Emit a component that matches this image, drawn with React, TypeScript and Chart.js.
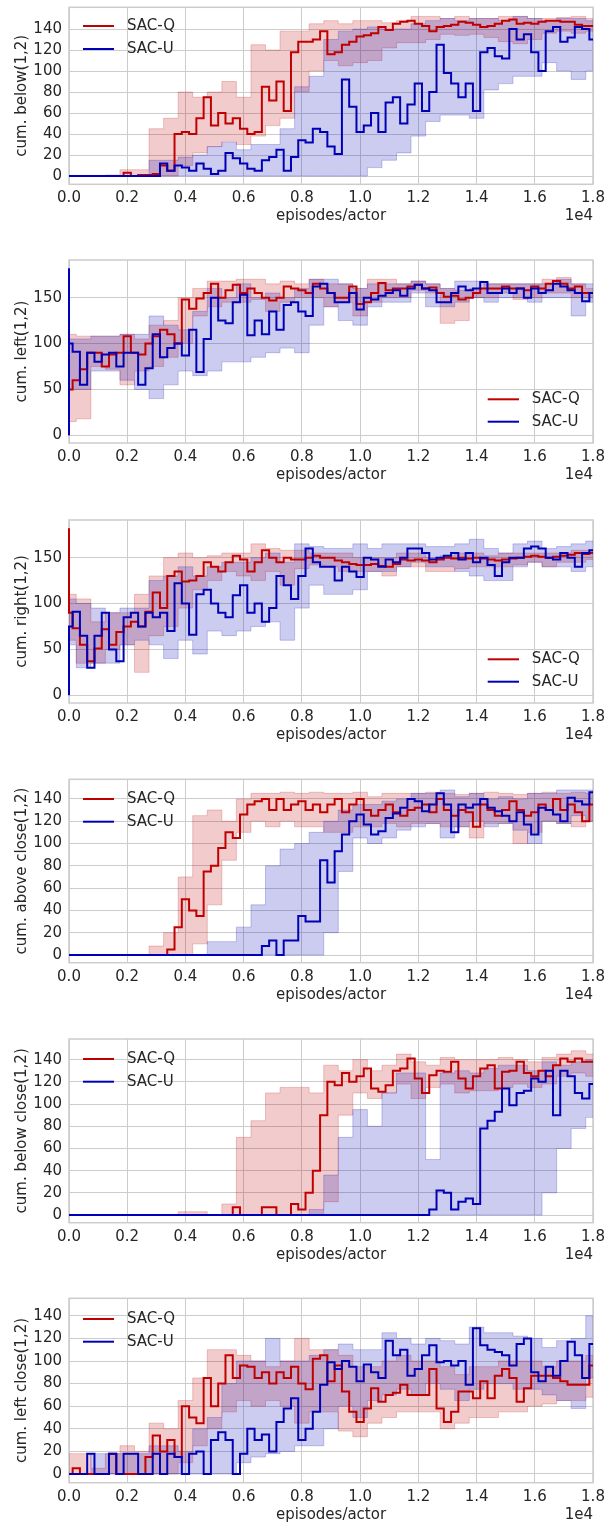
import React, { useEffect, useRef } from "react";
import { Chart, registerables } from "chart.js";

Chart.register(...registerables);

const FONT = '"DejaVu Sans", "Noto Sans", sans-serif';
const TEXT = "#262626";
const GRID = "#cccccc";
const RED = "rgb(192,0,0)";
const BLUE = "rgb(0,0,180)";
const RED_FILL = "rgba(192,0,0,0.2)";
const BLUE_FILL = "rgba(0,0,180,0.2)";
const RED_EDGE = "rgba(192,0,0,0.22)";
const BLUE_EDGE = "rgba(0,0,180,0.22)";

// episodes/actor sample positions
const LINE_X = Array.from({ length: 73 }, (_, i) => i * 250);
const BAND_X = Array.from({ length: 37 }, (_, i) => i * 500);
const X_TICKS = [0, 2000, 4000, 6000, 8000, 10000, 12000, 14000, 16000, 18000];
const Y_TICKS_20 = [0, 20, 40, 60, 80, 100, 120, 140];
const Y_TICKS_50 = [0, 50, 100, 150];
const SERIES_NAMES = ["SAC-Q", "SAC-U"];
const X_LABEL = "episodes/actor";
const X_OFFSET_LABEL = "1e4";

// ---- cum. below(1,2)
const BELOW_Q = [0,0,0,0,0,0,0,0,3,0, 1,1,2,10,5,40,42,40,55,75, 48,60,50,55,45,40,42,85,72,90, 62,118,128,128,130,138,116,118,125,128, 133,134,136,142,139,145,147,148,145,143, 138,142,143,144,147,146,144,142,143,145, 148,149,145,146,145,147,148,148,147,147, 144,143,143];
const BELOW_U = [0,0,0,0,0,0,0,0,0,0, 0,0,0,12,5,10,8,5,12,7, 2,5,22,17,12,7,5,15,18,25, 5,18,34,32,45,42,28,21,92,66, 42,48,60,42,70,75,50,68,88,62, 80,125,98,88,75,88,62,118,122,114, 112,140,130,135,118,100,138,142,128,132, 142,140,130];
const BELOW_Q_LO = [0,0,0,0,0,0,0,0,10,22, 28,33,30,38,48,55,80,100,110,105, 108,110,122,127,127,130,135,134,135,132, 128,126,130,136,138,136,138];
const BELOW_Q_HI = [0,0,0,1,6,6,45,55,80,75, 80,90,75,125,120,138,138,145,148,145, 148,148,146,148,152,152,150,152,150,150, 152,152,150,150,151,152,150];
const BELOW_U_LO = [0,0,0,0,0,0,0,0,0,0, 0,0,0,0,0,0,0,0,0,0, 0,8,15,22,38,52,58,58,55,82, 88,95,95,108,100,92,100];
const BELOW_U_HI = [0,0,0,0,0,0,15,15,18,20, 28,32,25,30,30,45,85,95,130,138, 140,142,140,140,145,148,150,148,150,150, 148,152,150,148,150,150,148];

// ---- cum. left(1,2)
const LEFT_Q_START = [0];
const LEFT_Q = [50,60,72,90,90,75,88,90,108,90, 88,100,108,115,110,100,148,138,149,155, 165,150,158,164,155,160,155,150,147,150, 162,160,158,155,165,160,155,150,150,162, 143,145,155,166,158,160,160,162,164,160, 161,155,151,152,148,150,155,160,160,160, 162,160,160,158,162,160,165,168,165,160, 162,155,155];
const LEFT_U_START = [0, 182];
const LEFT_U = [100,91,55,90,80,88,90,75,90,90, 55,73,110,85,95,100,87,115,69,105, 150,125,122,145,153,109,125,110,135,115, 142,145,135,130,162,165,155,145,145,155, 137,150,148,152,155,158,152,160,164,160, 158,145,145,155,162,158,160,167,155,155, 160,155,160,150,160,155,158,165,162,158, 155,146,155];
const LEFT_Q_LO = [15,18,75,72,55,70,75,85,100,130, 140,145,145,148,135,145,150,150,140,145, 130,145,150,150,158,155,122,125,150,150, 155,148,150,155,155,150,150];
const LEFT_Q_HI = [110,108,108,108,110,105,120,125,150,160, 168,168,170,170,165,168,165,170,165,165, 160,170,170,165,168,165,160,158,160,165, 165,165,165,170,172,165,160];
const LEFT_U_LO = [50,50,70,70,60,50,40,55,70,65, 70,80,80,85,90,95,90,120,140,125, 120,140,145,145,155,140,140,145,150,145, 150,150,145,150,150,130,145];
const LEFT_U_HI = [105,105,108,108,110,110,130,120,115,135, 160,150,165,150,155,150,160,170,170,165, 160,165,165,165,168,165,160,168,168,165, 165,165,165,165,170,165,165];

// ---- cum. right(1,2)
const RIGHT_Q_START = [182];
const RIGHT_Q = [90,73,55,37,51,72,55,69,75,80, 75,91,112,95,130,135,124,125,130,145, 140,135,145,152,148,135,145,158,150,145, 150,148,148,150,152,150,150,147,145,143, 142,142,143,141,140,143,148,147,148,147, 145,148,150,149,150,149,150,149,148,147, 148,149,150,151,152,151,150,151,152,153, 155,154,155];
const RIGHT_U_START = [0, 60];
const RIGHT_U = [75,91,65,30,65,90,50,37,85,90, 75,90,85,90,70,122,100,66,110,115, 100,90,85,109,120,90,100,80,95,130, 120,105,130,160,145,140,140,125,140,135, 129,150,148,140,148,145,150,160,160,155, 148,150,152,155,148,155,145,150,142,130, 145,150,150,160,162,160,150,148,155,150, 140,155,158];
const RIGHT_Q_LO = [60,35,35,50,55,25,65,75,95,115, 125,135,130,125,135,120,138,142,140,135, 135,135,130,140,140,135,135,138,140,140, 140,142,145,140,145,145,148];
const RIGHT_Q_HI = [110,105,80,90,90,110,130,150,155,150, 152,155,155,165,160,158,158,155,155,155, 150,150,150,155,155,150,152,155,155,152, 155,155,155,155,155,158,158];
const RIGHT_U_LO = [55,30,35,35,55,60,55,40,60,45, 70,65,70,75,80,60,95,120,110,110, 115,135,135,140,145,140,140,135,130,125, 125,140,145,140,140,135,140];
const RIGHT_U_HI = [105,100,95,90,95,95,125,130,140,130, 140,145,145,150,155,145,165,162,160,160, 165,160,165,165,165,162,162,165,170,160, 155,165,168,160,162,165,168];

// ---- cum. above close(1,2)
const ABOVE_Q = [0,0,0,0,0,0,0,0,0,0, 0,0,0,0,5,25,50,40,35,75, 80,96,110,105,126,135,138,140,130,140, 130,135,138,130,135,128,135,140,128,135, 140,130,125,130,135,128,125,130,132,135, 128,140,130,125,130,128,115,135,130,125, 130,138,130,125,128,135,130,140,130,135, 128,120,135];
const ABOVE_U = [0,0,0,0,0,0,0,0,0,0, 0,0,0,0,0,0,0,0,0,0, 0,0,0,0,0,0,0,8,13,0, 13,13,35,30,30,85,65,93,108,120, 126,117,108,111,123,127,132,140,138,129, 135,145,135,110,135,132,135,140,132,129, 125,120,128,117,108,132,130,126,120,141, 138,135,146];
const ABOVE_Q_LO = [0,0,0,0,0,0,0,0,0,10, 45,85,110,120,115,120,115,115,110,110, 115,115,118,115,118,118,115,115,105,118, 118,100,110,120,118,115,120];
const ABOVE_Q_HI = [0,0,0,0,0,0,8,20,70,125, 130,120,140,145,145,146,145,146,145,145, 146,142,145,145,145,146,145,144,145,146, 145,144,145,146,145,146,145];
const ABOVE_U_LO = [0,0,0,0,0,0,0,0,0,0, 0,0,0,0,0,0,0,0,20,75, 105,100,105,112,115,118,105,115,120,115, 118,112,100,120,118,125,120];
const ABOVE_U_HI = [0,0,0,0,0,0,0,0,0,0, 12,12,25,45,80,95,100,110,120,130, 135,135,138,140,145,145,148,142,145,140, 142,140,145,145,148,148,148];

// ---- cum. below close(1,2)
const BCLOSE_Q = [0,0,0,0,0,0,0,0,0,0, 0,0,0,0,0,0,0,0,0,0, 0,0,0,7,0,0,0,7,7,0, 0,10,5,20,40,90,120,117,128,120, 125,132,114,111,117,130,132,141,123,110, 126,130,129,138,123,114,125,132,135,114, 129,130,138,128,125,130,125,135,141,138, 141,138,138];
const BCLOSE_U = [0,0,0,0,0,0,0,0,0,0, 0,0,0,0,0,0,0,0,0,0, 0,0,0,0,0,0,0,0,0,0, 0,0,0,0,0,0,0,0,0,0, 0,0,0,0,0,0,0,0,0,0, 5,22,20,5,12,15,10,78,85,93, 114,99,110,112,123,120,130,90,130,125, 110,105,118];
const BCLOSE_Q_LO = [0,0,0,0,0,0,0,0,0,0, 0,0,0,0,0,0,0,0,12,90, 110,105,110,118,105,115,118,110,112,112, 115,118,115,118,125,128,125];
const BCLOSE_Q_HI = [0,0,0,0,0,0,0,0,3,3, 0,10,70,85,110,115,115,110,135,130, 140,130,135,145,138,135,142,140,140,140, 142,140,138,142,145,148,145];
const BCLOSE_U_LO = [0,0,0,0,0,0,0,0,0,0, 0,0,0,0,0,0,0,0,0,0, 0,0,0,0,0,0,0,0,0,0, 0,0,0,20,60,78,88];
const BCLOSE_U_HI = [0,0,0,0,0,0,0,0,0,0, 0,0,0,0,0,0,0,5,36,70, 95,80,110,128,128,50,128,130,128,132, 135,135,130,138,135,138,140];

// ---- cum. left close(1,2)
const LCLOSE_Q = [0,5,0,0,0,0,18,0,0,0, 0,15,34,20,30,15,60,50,45,85, 60,80,105,85,96,95,85,90,80,90, 85,95,80,75,102,105,82,96,73,55, 46,58,76,64,70,72,79,70,70,70, 93,58,46,55,73,73,67,82,67,87, 93,85,64,76,87,87,87,85,82,79, 79,79,96];
const LCLOSE_U = [0,0,0,18,0,0,18,0,18,18, 0,0,18,0,18,15,0,18,20,0, 30,37,30,0,18,40,30,35,20,46, 58,67,30,40,55,79,99,93,100,95, 82,97,90,85,118,105,110,87,93,105, 114,99,100,96,100,79,129,114,110,108, 105,96,115,120,90,82,95,87,100,117, 105,85,115];
const LCLOSE_Q_LO = [0,0,0,0,0,0,0,0,10,25, 40,55,65,60,65,60,45,55,55,38, 33,45,50,55,55,55,40,45,50,50, 55,55,60,62,65,65,68];
const LCLOSE_Q_HI = [18,18,5,18,25,20,45,40,65,85, 110,110,105,100,95,100,120,110,110,105, 95,95,100,105,100,100,95,88,95,95, 100,100,100,95,100,100,105];
const LCLOSE_U_LO = [0,0,0,0,0,0,0,0,0,0, 0,0,10,15,18,20,25,25,40,60, 50,65,70,75,70,80,75,65,75,80, 80,75,75,70,65,58,85];
const LCLOSE_U_HI = [0,0,18,18,18,18,25,25,20,40, 50,80,100,100,120,100,100,105,110,115, 110,110,125,120,115,120,118,115,130,125, 125,122,120,112,118,120,140];

type Panel = {
  ylabel: string;
  yTicks: number[];
  yMin: number;
  yMax: number;
  top: number;
  bottom: number;
  legendRows: number[];
  legendUpperLeft: boolean;
  q: number[];
  u: number[];
  qLo: number[];
  qHi: number[];
  uLo: number[];
  uHi: number[];
  qStart?: number[];
  uStart?: number[];
};

const PANELS: Panel[] = [
  { ylabel: "cum. below(1,2)", yTicks: Y_TICKS_20, yMin: -7.9, yMax: 160.7, top: 7.3, bottom: 184.3,
    legendRows: [26, 49], legendUpperLeft: true,
    q: BELOW_Q, u: BELOW_U, qLo: BELOW_Q_LO, qHi: BELOW_Q_HI, uLo: BELOW_U_LO, uHi: BELOW_U_HI },
  { ylabel: "cum. left(1,2)", yTicks: Y_TICKS_50, yMin: -8.4, yMax: 191, top: 260, bottom: 443,
    legendRows: [399.3, 421.7], legendUpperLeft: false,
    q: LEFT_Q, u: LEFT_U, qLo: LEFT_Q_LO, qHi: LEFT_Q_HI, uLo: LEFT_U_LO, uHi: LEFT_U_HI,
    qStart: LEFT_Q_START, uStart: LEFT_U_START },
  { ylabel: "cum. right(1,2)", yTicks: Y_TICKS_50, yMin: -8.4, yMax: 191, top: 520, bottom: 703,
    legendRows: [659.3, 681.7], legendUpperLeft: false,
    q: RIGHT_Q, u: RIGHT_U, qLo: RIGHT_Q_LO, qHi: RIGHT_Q_HI, uLo: RIGHT_U_LO, uHi: RIGHT_U_HI,
    qStart: RIGHT_Q_START, uStart: RIGHT_U_START },
  { ylabel: "cum. above close(1,2)", yTicks: Y_TICKS_20, yMin: -6.9, yMax: 157.6, top: 779.3, bottom: 962.7,
    legendRows: [799, 821.7], legendUpperLeft: true,
    q: ABOVE_Q, u: ABOVE_U, qLo: ABOVE_Q_LO, qHi: ABOVE_Q_HI, uLo: ABOVE_U_LO, uHi: ABOVE_U_HI },
  { ylabel: "cum. below close(1,2)", yTicks: Y_TICKS_20, yMin: -6.9, yMax: 158.6, top: 1039, bottom: 1222.7,
    legendRows: [1059, 1081.7], legendUpperLeft: true,
    q: BCLOSE_Q, u: BCLOSE_U, qLo: BCLOSE_Q_LO, qHi: BCLOSE_Q_HI, uLo: BCLOSE_U_LO, uHi: BCLOSE_U_HI },
  { ylabel: "cum. left close(1,2)", yTicks: Y_TICKS_20, yMin: -7.7, yMax: 155.5, top: 1298.3, bottom: 1482.7,
    legendRows: [1319, 1341.7], legendUpperLeft: true,
    q: LCLOSE_Q, u: LCLOSE_U, qLo: LCLOSE_Q_LO, qHi: LCLOSE_Q_HI, uLo: LCLOSE_U_LO, uHi: LCLOSE_U_HI },
];

const PLOT_LEFT = 69;
const PLOT_RIGHT = 593;
const FONT_SIZE = 15;

function toPoints(xs: number[], ys: number[], start?: number[]) {
  const head = (start || []).map((y) => ({ x: 0, y }));
  return head.concat(ys.map((y, i) => ({ x: xs[i], y })));
}

function PanelChart({ p }: { p: Panel }) {
  const ref = useRef<HTMLCanvasElement>(null);
  const C = Math.floor(p.top) - 20;
  const H = Math.ceil(p.bottom) + 46 - C;

  useEffect(() => {
    const canvas = ref.current as HTMLCanvasElement;
    const lineDs = (label: string, data: any[], color: string, order: number) => ({
      label, data, borderColor: color, backgroundColor: color, borderWidth: 2,
      pointRadius: 0, stepped: "middle", fill: false, order, clip: 3,
    });
    const bandDs = (label: string, data: any[], edge: string, fillColor: string, target: any, order: number) => ({
      label, data, borderColor: edge, backgroundColor: fillColor, borderWidth: 1,
      pointRadius: 0, stepped: "middle", fill: target, order,
    });
    const datasets: any[] = [
      lineDs("SAC-U", toPoints(LINE_X, p.u, p.uStart), BLUE, 0),
      lineDs("SAC-Q", toPoints(LINE_X, p.q, p.qStart), RED, 1),
      bandDs("U lo", toPoints(BAND_X, p.uLo), BLUE_EDGE, BLUE_FILL, false, 2),
      bandDs("U hi", toPoints(BAND_X, p.uHi), BLUE_EDGE, BLUE_FILL, 2, 3),
      bandDs("Q lo", toPoints(BAND_X, p.qLo), RED_EDGE, RED_FILL, false, 4),
      bandDs("Q hi", toPoints(BAND_X, p.qHi), RED_EDGE, RED_FILL, 4, 5),
    ];

    const decor = {
      id: "decor",
      beforeDatasetsDraw(chart: any) {
        const ctx = chart.ctx;
        const a = chart.chartArea;
        ctx.save();
        ctx.strokeStyle = GRID;
        ctx.lineWidth = 1.5;
        ctx.strokeRect(a.left, a.top, a.right - a.left, a.bottom - a.top);
        ctx.restore();
      },
      afterDraw(chart: any) {
        const ctx = chart.ctx;
        const a = chart.chartArea;
        ctx.save();
        ctx.fillStyle = TEXT;
        ctx.font = `${FONT_SIZE}px ${FONT}`;
        ctx.save();
        ctx.translate(21.7, (a.top + a.bottom) / 2);
        ctx.rotate(-Math.PI / 2);
        ctx.textAlign = "center";
        ctx.textBaseline = "middle";
        ctx.fillText(p.ylabel, 0, 0);
        ctx.restore();

        ctx.textAlign = "center";
        ctx.textBaseline = "middle";
        ctx.fillText(X_LABEL, (a.left + a.right) / 2, a.bottom + 32);
        ctx.textAlign = "right";
        ctx.fillText(X_OFFSET_LABEL, a.right, a.bottom + 32);

        const colors = [RED, BLUE];
        const lx0 = p.legendUpperLeft ? 83 : 487.7;
        const lx1 = p.legendUpperLeft ? 114 : 519;
        const tx = p.legendUpperLeft ? 127 : 531.7;
        SERIES_NAMES.forEach((name, i) => {
          const y = p.legendRows[i] - C;
          ctx.strokeStyle = colors[i];
          ctx.lineWidth = 2;
          ctx.beginPath();
          ctx.moveTo(lx0, y);
          ctx.lineTo(lx1, y);
          ctx.stroke();
          ctx.fillStyle = TEXT;
          ctx.textAlign = "left";
          ctx.textBaseline = "middle";
          ctx.fillText(name, tx, y);
        });
        ctx.restore();
      },
    };

    const tickFont = { family: FONT, size: FONT_SIZE };
    const chart = new Chart(canvas, {
      type: "line",
      data: { datasets },
      options: {
        animation: false,
        responsive: false,
        devicePixelRatio: 1,
        events: [],
        layout: { padding: { top: p.top - C, right: 615 - PLOT_RIGHT, bottom: 0, left: 0 } },
        plugins: { legend: { display: false }, tooltip: { enabled: false }, title: { display: false } },
        scales: {
          x: {
            type: "linear",
            min: 0,
            max: 18000,
            afterBuildTicks: (s: any) => { s.ticks = X_TICKS.map((v) => ({ value: v })); },
            afterFit: (s: any) => { s.height = H - (p.bottom - C); },
            ticks: {
              callback: (v: any) => (Number(v) / 10000).toFixed(1),
              font: tickFont, color: TEXT, padding: 5, maxRotation: 0, autoSkip: false,
            },
            grid: { color: GRID, lineWidth: 1, drawTicks: false },
            border: { display: false },
          },
          y: {
            type: "linear",
            min: p.yMin,
            max: p.yMax,
            afterBuildTicks: (s: any) => { s.ticks = p.yTicks.map((v) => ({ value: v })); },
            afterFit: (s: any) => { s.width = PLOT_LEFT; },
            ticks: { callback: (v: any) => String(v), font: tickFont, color: TEXT, padding: 7, autoSkip: false },
            grid: { color: GRID, lineWidth: 1, drawTicks: false },
            border: { display: false },
          },
        },
      } as any,
      plugins: [decor],
    });
    return () => chart.destroy();
  }, [p]);

  return (
    <canvas
      ref={ref}
      width={615}
      height={H}
      style={{ position: "absolute", left: 0, top: C, width: 615, height: H, display: "block" }}
    />
  );
}

export default function App() {
  return (
    <div style={{ position: "absolute", left: 0, top: 0, width: 615, height: 1525, background: "#ffffff", overflow: "hidden" }}>
      {PANELS.map((p, i) => (
        <PanelChart key={i} p={p} />
      ))}
    </div>
  );
}
